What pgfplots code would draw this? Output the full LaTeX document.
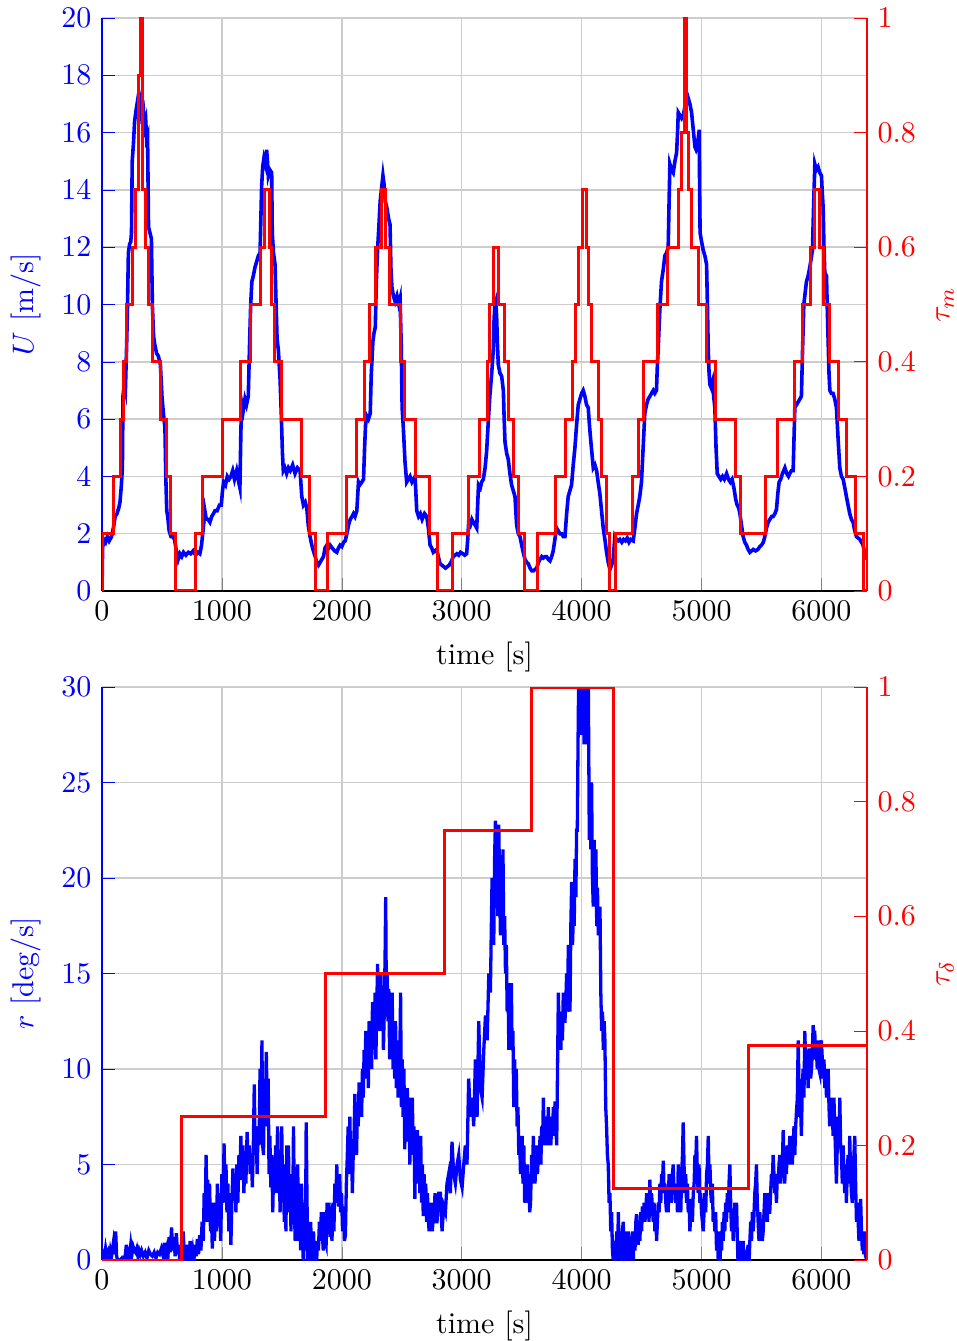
\documentclass[border=0pt]{standalone}
\usepackage{pgfplots}
\pgfplotsset{compat=1.18}
\pgfplotstableread{
x y
0 0
5 1.5
15 1.8
30 1.7
45 1.9
60 1.75
80 1.9
95 2.2
110 2.6
125 2.7
140 2.9
150 3.1
160 3.6
170 4.3
175 6.8
185 7.2
195 7.0
205 8.5
212 9.8
220 11.8
230 12.1
240 12.2
246 12.5
252 15.0
262 15.6
272 16.4
285 16.8
300 17.2
310 16.9
320 17.1
330 16.6
345 16.8
355 16.2
365 16.4
372 15.8
380 15.9
388 12.7
400 12.5
412 12.3
420 10.0
430 8.9
440 8.6
455 8.3
470 8.2
487 7.9
500 6.8
512 6.2
525 5.7
532 4.0
540 2.8
548 2.6
560 2.1
575 1.9
590 1.9
605 1.8
620 1.4
635 1.1
650 1.3
665 1.2
680 1.35
700 1.25
720 1.35
740 1.3
760 1.4
780 1.25
800 1.35
816 1.3
830 1.6
845 2.2
858 2.8
870 2.5
885 2.5
900 2.4
915 2.6
930 2.7
942 2.8
960 2.8
980 3.0
995 3.0
1005 3.5
1015 3.8
1030 3.7
1045 4.0
1060 3.9
1075 4.0
1090 4.2
1105 3.9
1123 4.2
1140 3.8
1150 3.6
1158 5.5
1164 6.6
1178 6.3
1192 6.7
1205 6.5
1220 6.8
1230 8.5
1240 10.0
1250 10.8
1262 11.0
1276 11.3
1290 11.5
1304 11.7
1318 11.8
1325 13.0
1331 14.1
1340 14.8
1350 15.1
1362 14.9
1373 15.4
1380 15.0
1387 14.5
1400 14.7
1415 14.6
1420 12.5
1430 11.8
1443 11.4
1452 10.0
1460 8.8
1471 8.4
1485 7.4
1495 6.2
1505 4.8
1512 4.2
1525 4.3
1540 4.1
1555 4.3
1570 4.2
1590 4.4
1610 4.1
1630 4.3
1652 4.2
1666 3.3
1680 3.0
1695 3.1
1708 2.9
1720 2.3
1735 1.9
1750 1.6
1763 1.4
1778 1.2
1791 1.0
1805 0.9
1819 1.0
1833 1.1
1847 1.2
1860 1.5
1875 1.6
1890 1.5
1902 1.6
1920 1.5
1940 1.4
1958 1.35
1972 1.5
1986 1.6
2000 1.55
2015 1.7
2028 1.75
2042 2.0
2056 2.3
2070 2.5
2085 2.6
2097 2.7
2110 2.6
2125 2.8
2139 3.8
2150 3.7
2167 3.8
2181 3.9
2190 5.0
2198 5.8
2209 6.1
2222 6.0
2237 6.2
2245 7.5
2259 8.7
2268 9.0
2279 9.2
2288 10.8
2298 11.9
2310 12.8
2320 13.6
2330 14.0
2343 14.5
2352 14.2
2362 13.6
2375 13.4
2390 13.0
2402 12.8
2410 11.2
2418 10.6
2430 10.3
2445 10.1
2460 10.3
2475 10.0
2486 10.2
2496 8.5
2503 6.4
2513 5.7
2527 4.5
2541 3.8
2555 3.9
2569 4.0
2585 3.8
2600 3.9
2611 4.0
2625 2.8
2640 2.6
2655 2.7
2670 2.5
2690 2.7
2708 2.6
2722 2.2
2736 1.6
2750 1.5
2763 1.35
2777 1.4
2791 1.45
2805 1.2
2819 0.95
2835 0.9
2850 0.85
2865 0.8
2880 0.85
2895 0.9
2910 1.0
2930 1.2
2945 1.25
2960 1.3
2975 1.25
2990 1.35
3010 1.3
3025 1.25
3041 1.3
3050 1.8
3058 2.4
3072 2.3
3085 2.5
3097 2.4
3112 2.3
3125 2.2
3133 3.0
3140 3.7
3155 3.6
3166 3.8
3180 3.9
3195 4.3
3208 4.9
3220 5.8
3236 6.9
3250 7.6
3263 8.4
3270 9.5
3277 10.0
3284 10.1
3291 9.6
3298 8.6
3305 7.9
3319 7.6
3333 7.5
3347 7.0
3354 6.0
3361 5.2
3375 4.8
3388 4.6
3402 4.1
3416 3.7
3430 3.5
3444 3.3
3451 2.8
3458 2.3
3472 2.0
3486 1.9
3500 1.6
3513 1.35
3528 1.1
3542 1.0
3555 0.95
3570 0.8
3585 0.7
3597 0.7
3611 0.75
3625 0.8
3640 1.0
3652 1.1
3667 1.2
3680 1.15
3694 1.2
3708 1.2
3722 1.1
3736 1.05
3750 1.2
3763 1.4
3777 1.8
3791 2.2
3805 2.1
3819 2.0
3833 2.0
3847 1.9
3861 1.9
3875 2.7
3888 3.3
3902 3.5
3916 3.7
3930 4.4
3944 5.0
3958 5.8
3972 6.5
3986 6.7
4000 6.9
4013 7.0
4027 6.8
4041 6.5
4055 6.4
4065 5.8
4075 5.3
4086 4.8
4097 4.3
4111 4.4
4125 4.2
4138 3.8
4152 3.4
4166 2.8
4180 2.2
4194 1.8
4208 1.35
4222 1.0
4236 0.75
4250 0.9
4263 1.1
4270 1.5
4277 1.9
4290 1.8
4305 1.75
4319 1.8
4335 1.7
4350 1.8
4365 1.75
4380 1.85
4395 1.7
4410 1.8
4430 1.75
4444 2.2
4458 2.7
4472 3.0
4485 3.3
4499 3.8
4513 5.0
4527 6.2
4541 6.5
4555 6.7
4570 6.8
4583 6.9
4597 7.0
4610 6.9
4624 7.0
4631 7.8
4638 8.4
4652 9.8
4666 10.8
4680 11.2
4694 11.7
4708 11.8
4722 12.0
4729 13.5
4736 14.9
4750 14.7
4764 14.6
4778 15.0
4792 15.3
4800 16.0
4806 16.7
4820 16.6
4834 16.5
4848 16.6
4861 16.9
4875 17.0
4889 17.2
4903 17.0
4917 16.7
4931 16.1
4945 15.5
4955 15.4
4964 15.5
4975 15.9
4981 16.1
4984 14.0
4988 12.5
5000 12.2
5014 11.9
5028 11.7
5042 11.4
5049 10.0
5056 8.4
5063 7.6
5070 7.2
5080 7.1
5092 7.3
5101 6.8
5111 6.4
5121 5.0
5131 4.1
5145 4.0
5160 3.9
5175 4.0
5190 3.9
5209 4.1
5225 3.9
5240 3.8
5255 3.9
5270 3.6
5285 3.2
5297 3.0
5310 2.9
5320 2.7
5333 2.3
5347 1.9
5361 1.7
5375 1.6
5389 1.45
5403 1.35
5417 1.4
5431 1.45
5450 1.4
5470 1.45
5486 1.55
5500 1.6
5515 1.7
5528 1.9
5542 2.2
5556 2.4
5570 2.5
5585 2.6
5597 2.6
5612 2.7
5625 2.85
5636 3.4
5647 3.8
5660 3.9
5675 4.1
5695 4.3
5710 4.1
5725 4.0
5736 4.1
5750 4.2
5764 4.2
5771 5.3
5778 6.4
5792 6.5
5806 6.6
5820 6.7
5833 6.8
5843 8.5
5853 10.0
5864 10.4
5875 10.8
5889 11.0
5903 11.3
5914 11.6
5925 11.9
5935 13.5
5945 14.9
5958 14.7
5972 14.8
5986 14.6
6000 14.5
6007 13.9
6014 13.4
6021 12.0
6028 11.1
6042 11.0
6049 9.8
6056 8.7
6063 7.6
6070 7.0
6083 6.9
6097 6.9
6111 6.7
6125 6.4
6139 5.3
6153 4.3
6167 4.0
6181 3.9
6195 3.6
6208 3.3
6222 3.0
6236 2.7
6250 2.5
6264 2.4
6278 2.1
6292 1.9
6306 1.85
6320 1.8
6334 1.7
6347 1.6
6361 1.3
6378 1.1
}\Udata
\pgfplotstableread{
x y
0 0
8 0.1
100 0.2
156 0.3
178 0.4
206 0.5
256 0.6
281 0.7
305 0.9
322 1.0
340 0.7
361 0.6
386 0.5
419 0.4
492 0.3
539 0.2
575 0.1
617 0
783 0.1
839 0.2
1006 0.3
1156 0.4
1239 0.5
1320 0.6
1358 0.7
1400 0.6
1412 0.5
1436 0.4
1500 0.3
1667 0.2
1728 0.1
1783 0
1883 0.1
2036 0.2
2122 0.3
2186 0.4
2233 0.5
2283 0.6
2331 0.7
2367 0.6
2398 0.5
2489 0.4
2525 0.3
2617 0.2
2728 0.1
2795 0
2923 0.1
3053 0.2
3145 0.3
3211 0.4
3230 0.5
3261 0.6
3303 0.5
3353 0.4
3392 0.3
3431 0.2
3470 0.1
3525 0
3636 0.1
3781 0.2
3864 0.3
3920 0.4
3950 0.5
3972 0.6
4008 0.7
4042 0.6
4061 0.5
4086 0.4
4142 0.3
4164 0.2
4206 0.1
4233 0
4283 0.1
4428 0.2
4478 0.3
4520 0.4
4636 0.5
4719 0.6
4808 0.7
4835 0.8
4858 1.0
4878 0.8
4894 0.7
4919 0.6
4978 0.5
5039 0.4
5117 0.3
5283 0.2
5325 0.1
5533 0.2
5636 0.3
5775 0.4
5844 0.5
5910 0.6
5940 0.7
5983 0.6
6015 0.5
6067 0.4
6144 0.3
6206 0.2
6281 0.1
6350 0
6378 0
}\TMdata
\pgfplotstableread{
x y
0 0
10 0.3
20 0.1
30 0.6
40 0.2
50 0.4
60 0
70 0.5
80 0.2
95 0.9
105 0.3
114 1.5
122 0.2
130 0
140 -0.2
150 0
165 0.1
180 -0.1
195 0.3
203 0.8
212 0.1
220 0.4
230 0.2
240 0.8
250 0.3
260 0.7
270 0.5
280 0.4
290 0.6
300 0.2
310 0.5
320 0.3
330 0.5
345 0.2
360 0.4
375 0.1
390 0.5
405 0.3
420 0.2
435 0.4
450 0.1
465 0.4
480 0.3
495 0.6
510 0.2
520 0.9
530 0.3
540 0.6
550 0.2
560 1.2
570 0.4
580 1.7
590 0.5
600 1.2
610 0.2
620 1.4
630 0.3
640 0.8
650 -0.2
660 0.6
668 0.1
677 1.5
685 0.4
695 -0.3
705 0.8
715 0.2
725 -0.2
735 1.0
745 0.1
755 0.5
765 -0.2
775 0.8
785 0.2
795 1.1
805 0.3
815 1.3
825 0.5
835 2.0
845 1.0
852 3.5
860 2.0
868 5.5
875 3.0
882 4.2
890 2.0
897 4.0
905 1.5
912 2.5
920 0.6
930 3.0
938 1.0
946 2.5
955 1.5
962 4.0
970 2.0
980 3.5
990 1.0
1000 4.5
1010 3.0
1018 6.1
1026 3.5
1034 5.0
1042 2.5
1050 4.0
1058 1.5
1066 3.5
1075 0.8
1083 3.0
1092 4.8
1100 3.2
1109 4.5
1117 2.5
1125 5.0
1133 3.0
1142 5.5
1150 4.2
1158 6.5
1166 4.5
1175 6.0
1183 3.5
1191 5.0
1200 4.0
1210 6.7
1220 5.0
1228 6.0
1236 4.5
1245 5.5
1254 3.8
1262 6.0
1270 9.2
1278 5.5
1286 6.5
1294 4.5
1302 7.0
1310 6.0
1318 10.0
1326 7.0
1334 11.5
1340 6.0
1347 5.5
1354 9.5
1362 7.0
1370 10.9
1378 8.0
1386 9.5
1393 4.5
1400 6.5
1408 3.8
1416 5.5
1424 2.5
1432 5.0
1440 3.5
1448 6.0
1456 4.0
1464 7.0
1471 3.5
1478 5.5
1485 2.5
1492 4.0
1499 7.0
1506 3.5
1513 5.0
1520 2.0
1527 4.5
1534 1.5
1541 6.0
1548 3.5
1555 6.0
1562 2.5
1569 4.5
1576 1.5
1583 4.0
1590 2.0
1597 7.0
1604 3.0
1611 1.0
1618 4.0
1625 2.0
1632 5.0
1640 1.0
1648 3.5
1656 0.5
1664 4.0
1672 1.5
1680 -0.5
1688 3.0
1696 0.5
1703 7.2
1710 3.0
1716 0
1724 1.5
1732 -0.5
1740 2.0
1748 0.5
1756 -0.3
1764 1.5
1772 0
1780 1.0
1788 -0.5
1796 1.0
1805 0.5
1813 2.0
1821 1.0
1829 2.5
1837 1.5
1845 0.5
1853 2.5
1861 1.0
1869 0.8
1877 3.0
1885 1.5
1893 3.0
1902 1.2
1910 2.0
1918 1.0
1926 3.0
1934 1.5
1942 4.0
1950 3.0
1958 5.0
1966 3.5
1974 2.8
1982 4.5
1990 2.5
1998 3.5
2006 1.5
2014 2.8
2022 1.0
2030 1.3
2038 4.0
2046 5.5
2053 7.0
2060 4.5
2067 7.5
2074 5.0
2081 6.0
2088 3.5
2095 5.5
2102 6.5
2109 8.7
2116 7.0
2123 5.5
2130 8.0
2137 7.0
2144 9.3
2151 8.0
2158 8.8
2165 7.5
2172 10.0
2179 8.5
2186 11.0
2193 9.5
2200 12.0
2207 10.5
2214 11.5
2221 9.0
2228 12.5
2235 10.0
2242 11.5
2249 10.0
2256 13.5
2263 12.0
2270 11.0
2277 14.0
2284 10.5
2291 13.0
2298 15.5
2305 12.0
2312 14.5
2319 13.0
2326 15.0
2333 12.0
2340 14.0
2347 11.0
2354 13.0
2361 16.0
2366 19.0
2371 14.0
2378 15.0
2385 12.5
2392 14.2
2399 10.5
2406 13.5
2413 11.0
2420 14.0
2427 10.0
2434 12.0
2441 9.5
2448 12.5
2455 9.0
2462 11.5
2469 8.5
2476 11.5
2483 10.0
2490 14.0
2497 8.0
2504 10.5
2511 7.5
2518 10.0
2525 5.8
2532 8.9
2539 6.5
2546 9.0
2553 6.2
2560 8.5
2567 5.0
2574 7.0
2581 5.5
2588 8.5
2595 6.0
2602 7.0
2609 3.2
2616 6.0
2623 4.5
2630 6.8
2637 4.0
2644 5.5
2651 3.5
2658 6.5
2665 3.0
2672 5.0
2679 2.3
2686 4.5
2693 3.0
2700 4.0
2707 2.0
2714 3.5
2721 2.2
2728 1.5
2735 3.0
2742 2.0
2749 2.5
2756 1.5
2763 3.0
2770 2.0
2777 3.5
2784 2.0
2794 2.0
2808 3.5
2822 3.5
2836 1.5
2850 2.8
2864 2.5
2877 4.0
2891 4.5
2905 3.5
2919 6.2
2933 4.5
2947 4.0
2961 5.0
2975 5.5
2989 4.2
3003 3.8
3017 5.0
3030 6.0
3044 5.0
3058 9.5
3072 7.5
3086 8.5
3100 7.0
3114 10.5
3128 7.5
3142 12.5
3156 9.0
3170 8.5
3184 11.0
3198 12.8
3212 11.5
3226 15.0
3239 14.0
3253 20.0
3260 17.0
3267 16.5
3274 21.0
3281 23.0
3288 19.0
3295 21.5
3301 18.0
3309 22.8
3316 19.5
3323 17.0
3330 20.0
3337 18.0
3344 21.5
3351 16.5
3358 18.0
3365 15.0
3372 16.5
3379 13.0
3386 14.5
3393 11.0
3400 13.0
3407 11.5
3414 14.5
3420 11.0
3427 12.0
3434 8.0
3441 10.5
3448 8.5
3455 10.0
3462 7.0
3469 8.0
3476 5.5
3483 6.5
3490 4.5
3497 5.0
3504 6.5
3511 4.0
3518 6.0
3525 3.0
3532 4.0
3539 3.5
3546 5.0
3553 3.0
3560 4.5
3567 2.5
3574 3.0
3583 5.5
3590 4.0
3597 6.5
3604 5.0
3611 4.0
3618 5.0
3625 6.0
3632 4.5
3639 5.5
3646 5.0
3653 6.5
3660 5.0
3667 7.0
3674 6.0
3681 8.5
3688 6.0
3695 7.0
3702 6.0
3709 7.5
3716 6.0
3722 8.0
3729 6.5
3736 7.5
3743 6.0
3750 7.0
3757 6.5
3764 8.0
3771 6.5
3778 8.3
3785 7.0
3792 6.0
3799 10.0
3806 14.0
3813 11.5
3820 12.5
3827 11.0
3833 13.0
3840 11.5
3847 14.0
3854 12.5
3861 12.5
3868 13.5
3875 15.0
3882 13.0
3889 16.5
3896 14.5
3903 13.0
3910 17.5
3917 19.8
3924 16.5
3931 18.0
3938 17.5
3945 21.0
3952 19.0
3958 22.5
3964 22.5
3970 27.0
3976 31.0
3981 30.0
3987 28.0
3993 31.0
4000 27.5
4007 31.0
4014 30.0
4021 27.0
4028 31.0
4035 28.5
4042 27.0
4049 30.5
4056 30.0
4064 22.0
4070 24.0
4077 21.5
4083 25.0
4090 20.0
4097 18.5
4104 22.0
4111 19.0
4119 21.5
4126 17.5
4132 19.5
4139 17.0
4146 18.0
4153 18.5
4160 14.0
4167 12.0
4174 13.0
4181 11.0
4188 12.5
4194 11.5
4201 8.0
4208 7.0
4215 5.5
4222 5.0
4229 3.0
4236 3.5
4243 1.5
4250 2.5
4257 0.5
4264 0
4271 1.0
4279 -0.5
4286 0.5
4293 1.5
4300 0
4306 2.5
4313 0.5
4319 0
4326 1.5
4333 -0.5
4340 1.5
4347 2.0
4354 0
4361 1.0
4368 -0.5
4375 1.5
4382 0.5
4389 1.5
4396 0
4403 1.0
4410 -0.5
4417 0.8
4424 1.5
4431 0
4438 1.5
4445 0.5
4452 2.0
4458 2.4
4465 1.5
4472 0.8
4479 2.0
4486 1.0
4493 2.5
4500 1.5
4507 2.8
4514 2.2
4521 3.0
4528 2.0
4535 2.5
4542 3.5
4549 2.5
4556 3.0
4562 2.0
4569 4.2
4576 3.0
4583 3.5
4590 2.8
4597 2.0
4604 3.0
4611 1.5
4618 2.5
4625 1.0
4632 2.0
4639 3.0
4646 2.5
4653 4.0
4660 3.0
4667 4.5
4674 4.0
4681 5.2
4688 3.5
4695 4.0
4702 3.0
4708 2.5
4715 3.5
4722 2.5
4729 4.5
4736 3.5
4743 4.0
4750 3.0
4757 4.5
4764 5.0
4771 3.5
4778 4.0
4785 3.0
4792 4.0
4799 2.5
4806 5.0
4813 3.5
4820 4.0
4827 2.5
4834 4.5
4841 5.5
4847 7.2
4854 5.0
4861 3.5
4868 4.5
4875 3.0
4882 4.0
4889 2.5
4896 3.0
4903 1.5
4910 2.5
4917 3.2
4924 2.0
4931 3.5
4938 4.0
4945 5.5
4952 5.0
4958 6.5
4965 4.5
4972 3.5
4979 5.0
4986 3.0
4993 3.5
5000 2.5
5007 2.0
5014 1.5
5021 2.5
5028 3.5
5035 2.5
5042 4.5
5049 5.0
5056 6.5
5063 4.0
5070 5.0
5077 3.5
5083 3.0
5090 4.0
5097 2.0
5104 2.5
5111 1.5
5118 2.5
5125 0.5
5132 1.5
5139 0
5146 1.0
5153 -0.5
5160 1.5
5167 0.5
5174 2.0
5181 1.0
5188 2.5
5194 1.5
5201 3.0
5208 2.0
5215 3.5
5222 2.5
5229 4.0
5236 5.0
5243 3.0
5250 1.5
5257 2.5
5264 1.0
5271 2.0
5278 3.0
5285 1.5
5292 3.0
5299 1.0
5306 -0.5
5313 0.5
5319 0
5326 1.0
5333 -0.5
5340 0.5
5347 1.0
5354 -0.3
5361 0.5
5368 0
5375 -0.5
5382 0.5
5389 0.8
5396 -0.2
5403 1.0
5410 2.0
5417 1.0
5424 2.5
5431 1.5
5438 2.5
5444 3.5
5451 4.0
5458 5.0
5465 3.0
5472 2.0
5479 1.0
5486 2.5
5493 1.5
5500 2.0
5507 1.0
5514 1.5
5521 2.5
5528 3.5
5535 2.5
5542 3.0
5549 2.0
5556 3.5
5563 2.5
5569 2.5
5576 3.5
5583 4.5
5590 4.0
5597 5.5
5604 4.5
5611 3.5
5618 4.0
5625 3.0
5632 4.5
5639 4.0
5646 5.0
5653 5.5
5660 4.0
5667 5.5
5674 5.0
5681 6.8
5688 5.0
5694 4.0
5701 5.5
5708 4.5
5715 6.0
5722 5.0
5729 5.5
5736 6.5
5743 5.0
5750 6.5
5757 5.0
5764 6.0
5771 7.0
5778 5.5
5785 7.0
5792 7.8
5799 8.5
5806 11.5
5813 9.0
5819 7.5
5826 8.0
5833 6.5
5840 9.0
5847 10.0
5854 8.5
5861 12.0
5868 10.5
5875 9.5
5882 10.5
5889 9.0
5896 11.0
5903 11.0
5910 9.5
5917 10.0
5924 11.0
5931 12.3
5938 11.5
5944 12.0
5951 10.5
5958 11.0
5965 10.0
5972 11.5
5979 10.0
5986 9.8
5993 11.0
6000 11.5
6007 10.5
6014 9.5
6021 10.5
6028 9.0
6035 10.0
6042 8.5
6049 9.5
6056 10.0
6063 8.0
6069 7.0
6076 8.5
6083 7.5
6090 8.0
6097 6.5
6104 8.5
6111 7.0
6118 5.5
6125 4.0
6132 6.0
6139 7.5
6146 6.0
6153 8.5
6160 6.0
6167 5.5
6174 4.0
6181 6.0
6188 4.5
6194 3.5
6201 5.0
6208 3.0
6215 4.5
6222 5.5
6229 4.0
6236 6.5
6243 4.5
6250 3.5
6257 3.0
6264 4.5
6271 5.5
6278 6.5
6285 4.0
6292 2.0
6299 3.0
6306 2.0
6313 1.0
6320 2.0
6327 3.2
6334 1.5
6341 0.5
6347 1.0
6354 0.3
6361 1.5
6368 0.2
6378 0
}\Rdata
\pgfplotstableread{
x y
0 0
662 0.25
1862 0.5
2853 0.75
3583 1
4264 0.125
5389 0.375
6380 0.375
}\TDdata
\definecolor{gridgray}{RGB}{205,205,205}
\pgfplotsset{
  common/.style={
    scale only axis, width=255pt, height=191pt,
    xmin=0, xmax=6380,
    xtick={0,1000,2000,3000,4000,5000,6000},
    xticklabel style={/pgf/number format/1000 sep={}},
    scaled x ticks=false,
  },
  leftax/.style={
    common,
    axis x line*=bottom, axis y line*=left,
    grid=major, grid style={gridgray, line width=0.5pt},
    y axis line style={blue}, ytick style={blue}, yticklabel style={blue},
    ylabel style={blue},
    xlabel={time [s]},
  },
  rightax/.style={
    common,
    axis x line=none, axis y line*=right,
    ymin=0, ymax=1,
    ytick={0,0.2,0.4,0.6,0.8,1},
    y axis line style={red}, ytick style={red}, yticklabel style={red},
    ylabel style={red},
  },
}
\begin{document}
\begin{tikzpicture}
\begin{axis}[leftax, ymin=0, ymax=20, ytick={0,2,...,20}, ylabel={$U$ [m/s]}]
\addplot[blue, line width=1.2pt] table[x=x,y=y] {\Udata};
\end{axis}
\begin{axis}[rightax, ylabel={$\tau_m$}]
\addplot[red, line width=1pt, const plot] table[x=x,y=y] {\TMdata};
\end{axis}
\begin{axis}[leftax, at={(0,-223pt)}, ymin=0, ymax=30, ytick={0,5,...,30}, ylabel={$r$ [deg/s]}]
\addplot[blue, line width=1.1pt] table[x=x,y=y] {\Rdata};
\end{axis}
\begin{axis}[rightax, at={(0,-223pt)}, ylabel={$\tau_\delta$}]
\addplot[red, line width=1pt, const plot] table[x=x,y=y] {\TDdata};
\end{axis}
\pgfresetboundingbox
\path[use as bounding box] (-34pt,-250pt) rectangle (284.67pt,197pt);
\end{tikzpicture}
\end{document}
